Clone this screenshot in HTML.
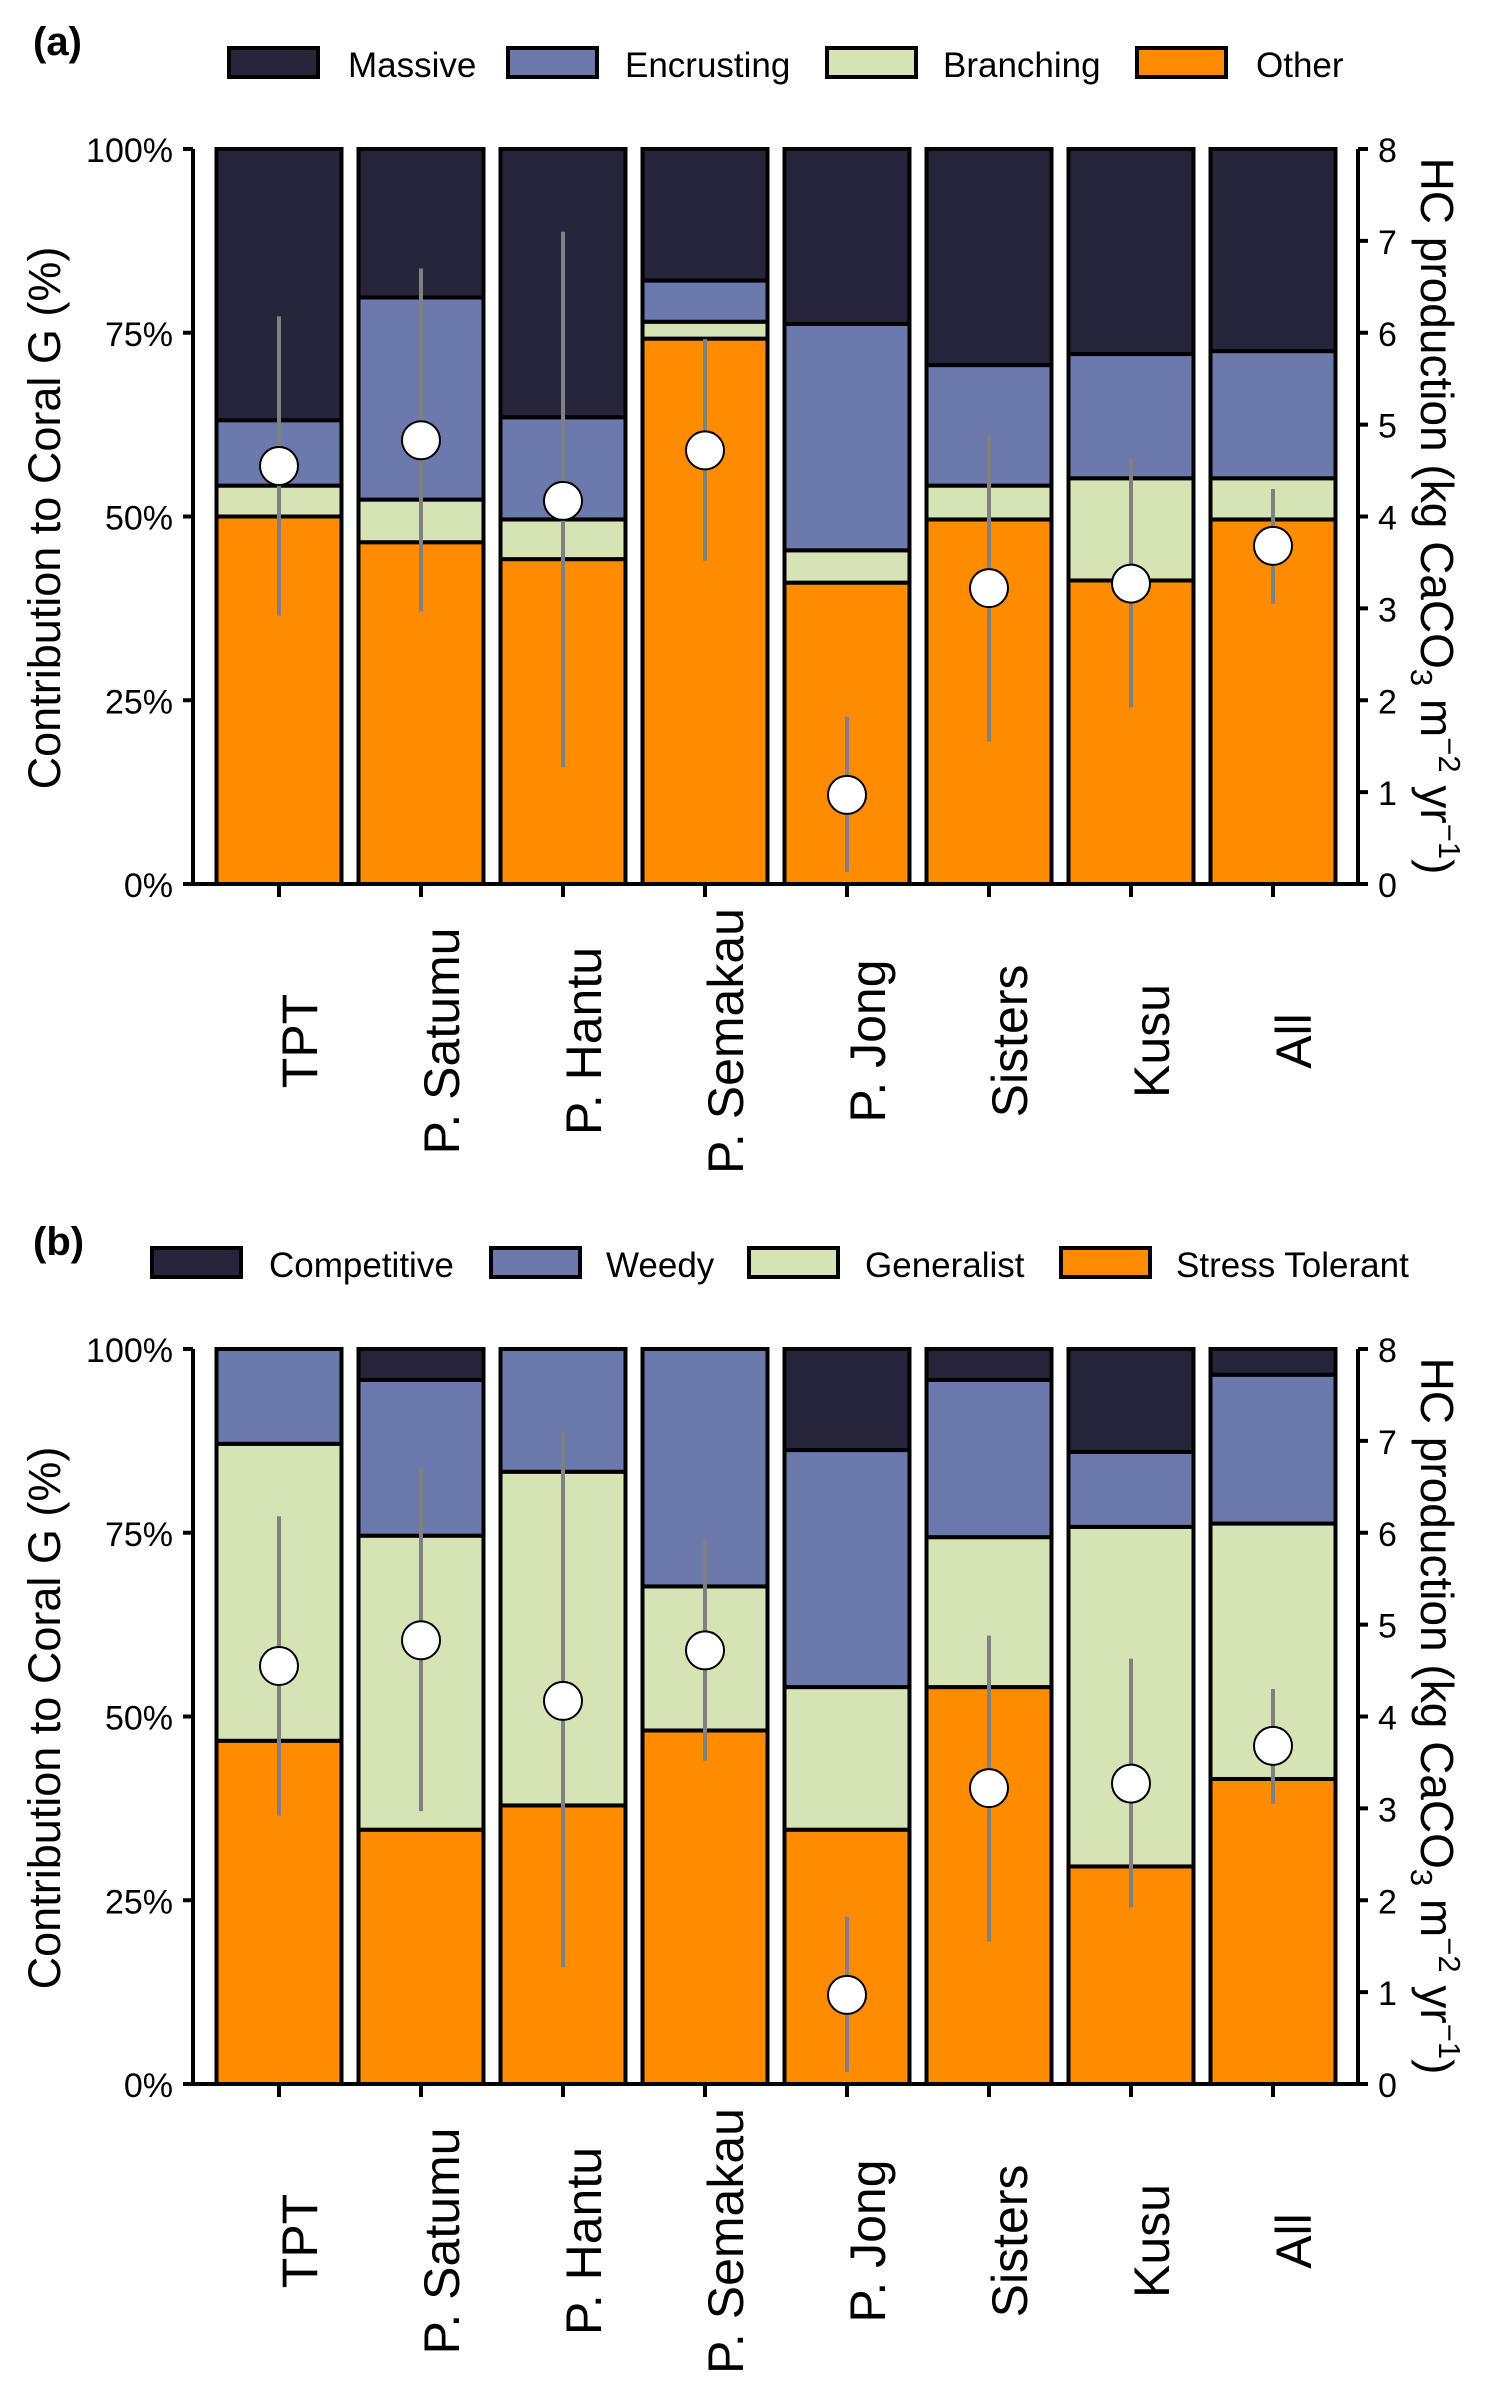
<!DOCTYPE html>
<html><head><meta charset="utf-8"><style>
html,body{margin:0;padding:0;background:#fff}
svg{display:block;font-family:"Liberation Sans",Arial,sans-serif}
</style></head><body>
<svg id="fig" width="1500" height="2400" viewBox="0 0 1500 2400" xmlns="http://www.w3.org/2000/svg"></svg>
<script>
const categories = ["TPT","P. Satumu","P. Hantu","P. Semakau","P. Jong","Sisters","Kusu","All"];
// Panel a: segment sizes (%) bottom->top: Other, Branching, Encrusting, Massive
const aOther = [50.0,46.5,44.2,74.2,41.0,49.6,41.3,49.6];
const aBranching = [4.2,5.8,5.4,2.3,4.4,4.6,13.9,5.6];
const aEncrusting = [8.9,27.5,13.9,5.6,30.8,16.4,16.9,17.3];
const aMassive = [36.9,20.2,36.5,17.9,23.8,29.4,27.9,27.5];
// Panel b: Stress Tolerant, Generalist, Weedy, Competitive
const bStress = [46.7,34.6,37.9,48.1,34.6,54.0,29.6,41.5];
const bGeneralist = [40.4,40.0,45.4,19.6,19.4,20.4,46.2,34.75];
const bWeedy = [12.9,21.2,16.7,32.3,32.25,21.4,10.2,20.25];
const bCompetitive = [0,4.2,0,0,13.75,4.2,14.0,3.5];
// HC production (kg CaCO3 m-2 yr-1)
const hcMean = [4.55,4.83,4.17,4.72,0.97,3.22,3.27,3.68];
const hcLow = [2.92,2.97,1.27,3.52,0.13,1.55,1.92,3.05];
const hcHigh = [6.18,6.7,7.1,5.93,1.82,4.88,4.63,4.3];
const pctTicks = ["0%","25%","50%","75%","100%"];
const hcTicks = ["0","1","2","3","4","5","6","7","8"];

const NS="http://www.w3.org/2000/svg";
const svg=document.getElementById('fig');
function mk(tag,attrs,parent,text){const e=document.createElementNS(NS,tag);for(const k in attrs)e.setAttribute(k,attrs[k]);if(text!==undefined)e.textContent=text;(parent||svg).appendChild(e);return e;}
const colors=["#ff8c00","#d6e3b5","#6b79ad","#26253b"];
const X0=193,X1=1358,BW=125;
function xc(i){return 279+i*142;}

function panel(off,series,names,legX,legTX,label){
  const top=149+off,bot=884+off;
  const yP=v=>bot-(v/100)*(bot-top);
  const yH=v=>bot-(v/8)*(bot-top);
  const g=mk('g',{});
  
  
  const lab=mk('text',{x:33,y:55+off,'font-size':40,'font-weight':'bold'},g,'('+label+')');
  
  
  for(let k=3;k>=0;k--){
    const j=3-k;
    const sw=mk('rect',{x:legX[j],y:48+off,width:89,height:29,fill:colors[k],stroke:'#000','stroke-width':4},g);
    
    
    const t=mk('text',{x:legTX[j],y:77+off,'font-size':35},g,names[k]);
    
    
  }
  for(let i=0;i<categories.length;i++){
    let cum=0;
    for(let k=0;k<4;k++){
      const v=series[k][i];
      if(v<=0){continue;}
      const y1=yP(cum+v),y0=yP(cum);
      const r=mk('rect',{x:xc(i)-BW/2,y:y1,width:BW,height:y0-y1,fill:colors[k],stroke:'#000','stroke-width':4},g);
      
      
      cum+=v;
    }
  }
  const ax=mk('path',{d:`M${X0},${top} V${bot} H${X1} V${top}`,fill:'none',stroke:'#000','stroke-width':4},g);
  
  
  pctTicks.forEach((t,j)=>{
    const y=yP(j*25);
    mk('line',{x1:X0-10,x2:X0,y1:y,y2:y,stroke:'#000','stroke-width':4},g);
    const tl=mk('text',{x:173,y:y+13,'font-size':34,'text-anchor':'end'},g,t);
    
    
  });
  hcTicks.forEach((t,j)=>{
    const y=yH(j);
    mk('line',{x1:X1,x2:X1+10,y1:y,y2:y,stroke:'#000','stroke-width':4},g);
    const tl=mk('text',{x:1378,y:y+13,'font-size':34},g,t);
    
    
  });
  categories.forEach((c,i)=>{
    mk('line',{x1:xc(i),x2:xc(i),y1:bot,y2:bot+13,stroke:'#000','stroke-width':4},g);
    const bx=xc(i)+38,cy=1041+off;
    const tl=mk('text',{x:bx,y:cy,'font-size':50,'text-anchor':'middle',transform:`rotate(-90 ${bx} ${cy})`},g,c);
    
    
  });
  const lt=mk('text',{x:60,y:518+off,'font-size':45,'text-anchor':'middle',transform:`rotate(-90 60 ${518+off})`},g,'Contribution to Coral G (%)');
  
  
  const rt=mk('text',{x:1421,y:516+off,'font-size':46,'text-anchor':'middle',transform:`rotate(90 1421 ${516+off})`},g);
  
  
  mk('tspan',{},rt,'HC production (kg CaCO');
  mk('tspan',{dy:10,'font-size':31},rt,'3');
  mk('tspan',{dy:-10},rt,' m');
  mk('tspan',{dy:-18,'font-size':31},rt,'\u22122');
  mk('tspan',{dy:18},rt,' yr');
  mk('tspan',{dy:-18,'font-size':31},rt,'\u22121');
  mk('tspan',{dy:18},rt,')');
  for(let i=0;i<categories.length;i++){
    const e=mk('line',{x1:xc(i),x2:xc(i),y1:yH(hcLow[i]),y2:yH(hcHigh[i]),stroke:'#808080','stroke-width':4},g);
    
    
    const p=mk('ellipse',{cx:xc(i),cy:yH(hcMean[i]),rx:19,ry:19,fill:'#fff',stroke:'#000','stroke-width':2},g);
    
    
  }
}
panel(0,[aOther,aBranching,aEncrusting,aMassive],["Other","Branching","Encrusting","Massive"],[229,508,827,1137],[348,625,943,1256],'a');
panel(1200,[bStress,bGeneralist,bWeedy,bCompetitive],["Stress Tolerant","Generalist","Weedy","Competitive"],[152,491,749,1061],[269,606,865,1176],'b');
</script>
</body></html>
